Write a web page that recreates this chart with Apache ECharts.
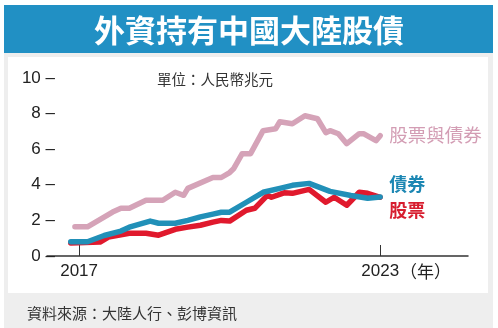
<!DOCTYPE html>
<html><head><meta charset="utf-8">
<script src="https://cdn.jsdelivr.net/npm/echarts@6/dist/echarts.min.js"></script>
<style>html,body{margin:0;padding:0;background:#fff}#c{width:498px;height:328px}</style>
</head><body><div id="c"></div>
<script>
// ---- data (trillion RMB) ----
const totalDates = ['2016-12','2017-03','2017-09','2017-11','2018-01','2018-05','2018-09','2018-12','2019-02','2019-03','2019-09','2019-11','2020-01','2020-02','2020-04','2020-06','2020-09','2020-12','2021-01','2021-04','2021-07','2021-10','2021-12','2022-01','2022-03','2022-05','2022-08','2022-09','2022-12','2023-01'];
const totalValues = [1.64,1.64,2.47,2.68,2.68,3.13,3.13,3.58,3.41,3.80,4.41,4.41,4.69,4.92,5.75,5.75,7.04,7.15,7.54,7.43,7.88,7.71,6.93,7.04,6.87,6.31,6.87,6.87,6.48,6.76];
const bondDates = ['2016-11','2017-03','2017-07','2017-11','2018-01','2018-06','2018-08','2018-12','2019-03','2019-06','2019-09','2019-11','2020-01','2020-05','2020-09','2021-01','2021-04','2021-08','2022-01','2022-06','2022-10','2023-01'];
const bondValues = [0.80,0.80,1.15,1.40,1.62,1.96,1.84,1.84,2.00,2.20,2.35,2.46,2.46,3.02,3.58,3.80,3.97,4.08,3.63,3.40,3.24,3.32];
const stockDates = ['2016-11','2017-06','2017-08','2018-01','2018-05','2018-08','2018-12','2019-03','2019-06','2019-09','2019-11','2020-01','2020-05','2020-07','2020-10','2020-11','2021-02','2021-04','2021-08','2021-12','2022-02','2022-05','2022-08','2022-10','2023-01'];
const stockValues = [0.73,0.78,1.06,1.28,1.28,1.17,1.50,1.62,1.73,1.90,2.00,1.96,2.57,2.68,3.41,3.30,3.55,3.52,3.74,3.02,3.30,2.85,3.58,3.52,3.30];
const seriesNames = ['股票與債券','債券','股票'];
const yTicks = [0,2,4,6,8,10];
const xTickYears = [2017, 2023];
const titleText = '外資持有中國大陸股債';
const unitText = '單位：人民幣兆元';
const sourceText = '資料來源：大陸人行、彭博資訊';
const yearSuffix = '（年）';

// month string -> fractional year for the value axis
const toYear = s => { const p = s.split('-'); return +p[0] + (+p[1] - 1) / 12; };
const zip = (d, v) => d.map((x, i) => [toYear(x), v[i]]);
const CJK = '"Noto Sans CJK TC","Noto Sans CJK SC",sans-serif';
const NUM = 'Arial,"Liberation Sans",sans-serif';

const chart = echarts.init(document.getElementById('c'), null, {renderer: 'canvas'});
chart.setOption({
  animation: false,
  backgroundColor: '#ffffff',
  graphic: [
    {type: 'rect', shape: {x: 4, y: 53, width: 489, height: 275}, style: {fill: '#eeeeee'}, z: -10},
    {type: 'rect', shape: {x: 8, y: 57, width: 480, height: 236}, style: {fill: '#ffffff'}, z: -9},
    {type: 'rect', shape: {x: 4, y: 5, width: 489, height: 48}, style: {fill: '#2190c4'}, z: -9},
    {type: 'text', x: 249, y: 30, style: {text: titleText, fill: '#fff', font: 'bold 31px ' + CJK, align: 'center', verticalAlign: 'middle'}},
    {type: 'text', x: 157, y: 79, style: {text: unitText, fill: '#333', font: '14.5px ' + CJK, align: 'left', verticalAlign: 'middle'}},
    {type: 'text', x: 400, y: 272, style: {text: yearSuffix, fill: '#222', font: '17px ' + CJK, align: 'left', verticalAlign: 'middle'}},
    {type: 'text', x: 27, y: 313, style: {text: sourceText, fill: '#333', font: '15px ' + CJK, align: 'left', verticalAlign: 'middle'}}
  ],
  grid: {left: 47, right: 30, top: 78, bottom: 72},
  xAxis: {
    type: 'value',
    min: 2016.36, max: 2024.75,
    axisLine: {show: true, lineStyle: {color: '#333', width: 1.5}},
    axisTick: {show: true, inside: true, length: 11, lineStyle: {color: '#333', width: 1},
      customValues: xTickYears},
    splitLine: {show: false},
    axisLabel: {
      customValues: xTickYears,
      formatter: v => String(v),
      color: '#222', fontSize: 17, fontFamily: NUM, margin: 7
    }
  },
  yAxis: {
    type: 'value', min: 0, max: 10, interval: 2,
    axisLine: {show: false}, axisTick: {show: false}, splitLine: {show: false},
    axisLabel: {formatter: v => v + ' –', color: '#222', fontSize: 17, fontFamily: NUM, margin: -8}
  },
  series: [
    {name: seriesNames[0], type: 'line', data: zip(totalDates, totalValues), showSymbol: false,
     lineStyle: {color: '#d5a3b8', width: 5.5, cap: 'round', join: 'round'}, z: 2,
     endLabel: {show: true, formatter: seriesNames[0], color: '#d39db4', fontSize: 18.5, fontFamily: CJK, distance: 9, offset: [0, -1]}},
    {name: seriesNames[2], type: 'line', data: zip(stockDates, stockValues), showSymbol: false,
     lineStyle: {color: '#e0192d', width: 5.5, cap: 'round', join: 'round'}, z: 3,
     endLabel: {show: true, formatter: seriesNames[2], color: '#d71e2f', fontSize: 18, fontWeight: 'bold', fontFamily: CJK, distance: 9, offset: [0, 13]}},
    {name: seriesNames[1], type: 'line', data: zip(bondDates, bondValues), showSymbol: false,
     lineStyle: {color: '#2190b8', width: 5.5, cap: 'round', join: 'round'}, z: 4,
     endLabel: {show: true, formatter: seriesNames[1], color: '#1c87b3', fontSize: 18, fontWeight: 'bold', fontFamily: CJK, distance: 9, offset: [0, -13]}}
  ]
});
</script>
</body></html>
